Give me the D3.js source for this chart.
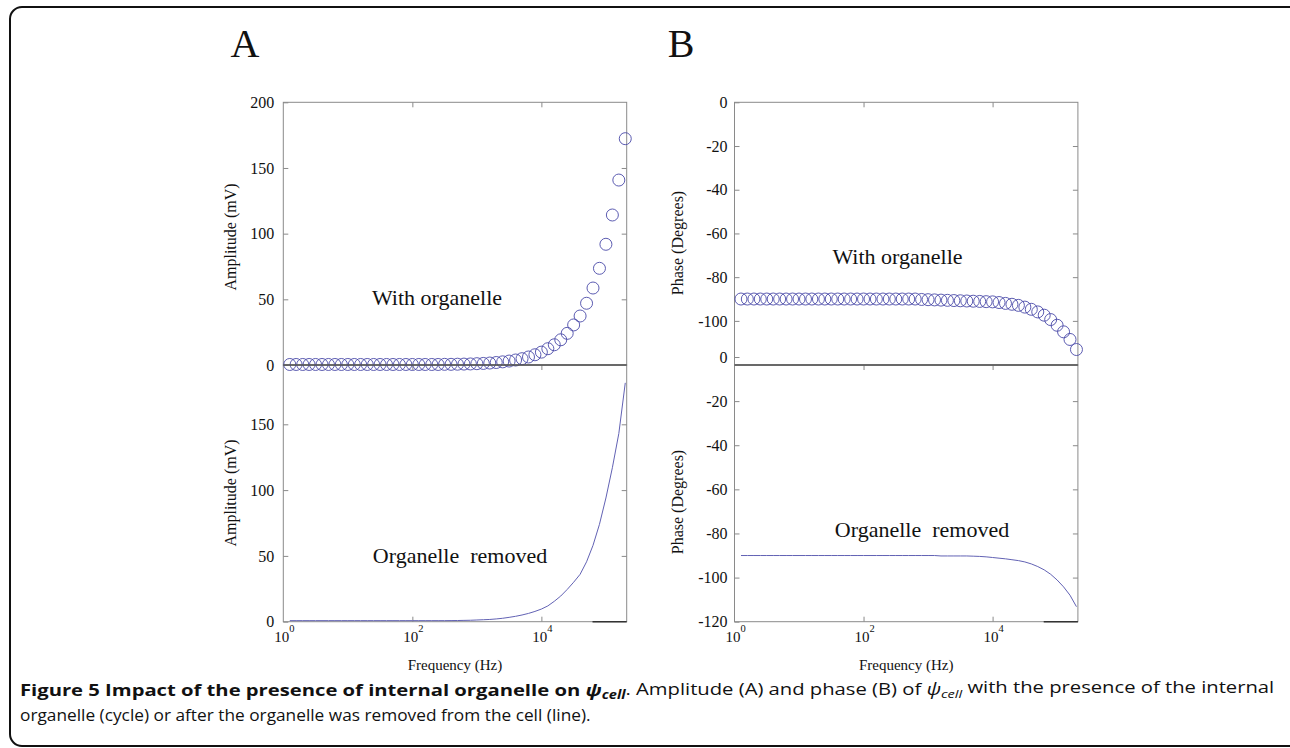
<!DOCTYPE html>
<html>
<head>
<meta charset="utf-8">
<script src="https://cdn.jsdelivr.net/npm/d3@7"></script>
<style>
  body { margin: 0; background: #fff; }
  svg { display: block; }
</style>
</head>
<body>
<div id="chart"></div>
<script>
// frequency grid (Hz), 0.1 decade steps
var freqHz = [1.26, 1.58, 2.00, 2.51, 3.16, 3.98, 5.01, 6.31, 7.94, 10,
  12.6, 15.8, 20.0, 25.1, 31.6, 39.8, 50.1, 63.1, 79.4, 100,
  126, 158, 200, 251, 316, 398, 501, 631, 794, 1000,
  1259, 1585, 1995, 2512, 3162, 3981, 5012, 6310, 7943, 10000,
  12589, 15849, 19953, 25119, 31623, 39811, 50119, 63096, 79433, 100000,
  125893, 158489, 199526];

// A: amplitude (mV)
var ampWithOrganelle = [0.4, 0.4, 0.4, 0.4, 0.4, 0.4, 0.4, 0.4, 0.4, 0.4,
  0.4, 0.4, 0.4, 0.4, 0.4, 0.4, 0.4, 0.4, 0.4, 0.4,
  0.4, 0.4, 0.4, 0.4, 0.5, 0.5, 0.6, 0.7, 0.8, 1.0,
  1.2, 1.5, 1.9, 2.4, 3.0, 3.8, 4.8, 6.1, 7.8, 9.8,
  12.4, 15.4, 19.2, 24.1, 30.5, 37.3, 47.0, 58.6, 73.6, 91.9,
  114.2, 140.8, 172.3];
var ampOrganelleRemoved = [0.8, 0.8, 0.8, 0.8, 0.8, 0.8, 0.8, 0.8, 0.8, 0.8,
  0.8, 0.8, 0.8, 0.8, 0.8, 0.8, 0.8, 0.8, 0.8, 0.8,
  0.8, 0.8, 0.8, 0.8, 0.8, 0.85, 0.9, 1.0, 1.1, 1.3,
  1.5, 1.7, 2.1, 2.6, 3.3, 4.1, 5.1, 6.3, 7.8, 9.6,
  12.0, 15.5, 19.5, 24.5, 30.0, 36.0, 45.5, 58.0, 74.0, 94.0,
  117, 143, 181.5];

// B: phase (degrees)
var phaseWithOrganelle = [-90, -90, -90, -90, -90, -90, -90, -90, -90, -90,
  -90, -90, -90, -90, -90, -90, -90, -90, -90, -90,
  -90, -90, -90, -90, -90, -90, -90, -90, -90.2, -90.3,
  -90.4, -90.5, -90.6, -90.7, -90.8, -90.9, -91.0, -91.1, -91.2, -91.3,
  -91.6, -92.0, -92.4, -92.9, -93.7, -94.7, -95.9, -97.4, -99.4, -102.0,
  -105.0, -108.5, -113.1];
var phaseOrganelleRemoved = [-90, -90, -90, -90, -90, -90, -90, -90, -90, -90,
  -90, -90, -90, -90, -90, -90, -90, -90, -90, -90,
  -90, -90, -90, -90, -90, -90, -90, -90, -90, -90,
  -90, -90.2, -90.2, -90.2, -90.2, -90.2, -90.3, -90.4, -90.6, -90.9,
  -91.2, -91.5, -91.9, -92.3, -92.9, -93.8, -95.0, -96.5, -98.5, -101.1,
  -104.2, -108.0, -113.2];

var ampTicksTop = [0, 50, 100, 150, 200];
var ampTicksBottom = [0, 50, 100, 150];
var phaseTicksTop = [-100, -80, -60, -40, -20, 0];
var phaseTicksBottom = [-120, -100, -80, -60, -40, -20, 0];
var freqTicks = [1, 100, 10000];
var freqExponents = ["0", "2", "4"];

var W = 1290, H = 748;
var serif = "'Liberation Serif','Times New Roman',serif";
var sans = "'Open Sans','Noto Sans',sans-serif";
var frameColor = "#8a8a8a", markColor = "#4a4aa8", lineColor = "#6262b4";

var svg = d3.select("#chart").append("svg")
    .attr("width", W)
    .attr("height", H);

// rounded figure border
svg.append("rect")
    .attr("x", 10).attr("y", 7)
    .attr("width", 1300).attr("height", 739)
    .attr("rx", 12)
    .attr("fill", "none")
    .attr("stroke", "#111")
    .attr("stroke-width", 2);

var xA = d3.scaleLog().domain([1, 2.1e5]).range([283.3, 626.7]);
var xB = d3.scaleLog().domain([1, 2.1e5]).range([734.5, 1077.9]);

var panels = [
  { x: xA, top: 365, bottom: 621.7,
    y: d3.scaleLinear().domain([0, 200]).range([621.7, 358.5]),
    ticks: ampTicksBottom, values: ampOrganelleRemoved, kind: "line",
    title: "Amplitude (mV)", titleX: 230, titleY: 493,
    label: "Organelle\u00a0 removed", labelX: 460, labelY: 563, pad: 9, bottomAxis: true },
  { x: xB, top: 365, bottom: 621.7,
    y: d3.scaleLinear().domain([-120, 0]).range([621.7, 357]),
    ticks: phaseTicksBottom, values: phaseOrganelleRemoved, kind: "line",
    title: "Phase (Degrees)", titleX: 677, titleY: 502,
    label: "Organelle\u00a0 removed", labelX: 922, labelY: 537, pad: 7, bottomAxis: true },
  { x: xA, top: 102.3, bottom: 365,
    y: d3.scaleLinear().domain([0, 200]).range([365, 102.3]),
    ticks: ampTicksTop, values: ampWithOrganelle, kind: "circle",
    title: "Amplitude (mV)", titleX: 230, titleY: 237,
    label: "With organelle", labelX: 437, labelY: 305, pad: 9, bottomAxis: false },
  { x: xB, top: 102.3, bottom: 365,
    y: d3.scaleLinear().domain([-120, 0]).range([364.6, 102.3]),
    ticks: phaseTicksTop, values: phaseWithOrganelle, kind: "circle",
    title: "Phase (Degrees)", titleX: 677, titleY: 243,
    label: "With organelle", labelX: 897.5, labelY: 264, pad: 7, bottomAxis: false }
];

function styleAxis(g) {
  g.select(".domain").remove();
  g.selectAll(".tick line").attr("stroke", frameColor);
  g.selectAll(".tick text")
    .style("font-family", serif)
    .style("font-size", "16px")
    .attr("fill", "#111");
}

panels.forEach(function(p) {
  var x0 = p.x.range()[0], x1 = p.x.range()[1];
  var g = svg.append("g");

  g.append("rect")
    .attr("x", x0).attr("y", p.top)
    .attr("width", x1 - x0).attr("height", p.bottom - p.top)
    .attr("fill", "none")
    .attr("stroke", frameColor);

  g.append("g")
    .attr("transform", "translate(" + x0 + ",0)")
    .call(d3.axisLeft(p.y).tickValues(p.ticks).tickSize(-5).tickPadding(p.pad)
      .tickFormat(function(d) { return String(d); }))
    .call(styleAxis);

  g.append("g")
    .attr("transform", "translate(" + x1 + ",0)")
    .call(d3.axisRight(p.y).tickValues(p.ticks.filter(function(d) {
        return p.y(d) > p.top + 2 && p.y(d) < p.bottom - 2; }))
      .tickSize(-5).tickFormat(""))
    .call(styleAxis);

  g.append("g")
    .attr("transform", "translate(0," + p.top + ")")
    .call(d3.axisTop(p.x).tickValues(freqTicks.slice(1)).tickSize(-5).tickFormat(""))
    .call(styleAxis);

  if (p.bottomAxis) {
    g.append("g")
      .attr("transform", "translate(0," + p.bottom + ")")
      .call(d3.axisBottom(p.x).tickValues(freqTicks.slice(1)).tickSize(-5).tickFormat(""))
      .call(styleAxis);

    // 10^n labels
    freqTicks.forEach(function(f, i) {
      var t = g.append("text")
        .attr("x", p.x(f) + 1)
        .attr("y", p.bottom + 20)
        .attr("text-anchor", "middle")
        .style("font-family", serif)
        .style("font-size", "15px")
        .attr("fill", "#111");
      t.append("tspan").text("10");
      t.append("tspan").attr("dy", -10).style("font-size", "10.5px").text(freqExponents[i]);
    });

    g.append("text")
      .attr("x", (x0 + x1) / 2)
      .attr("y", p.bottom + 48)
      .attr("text-anchor", "middle")
      .style("font-family", serif)
      .style("font-size", "15px")
      .attr("fill", "#111")
      .text("Frequency (Hz)");

    // dark stub on the bottom axis near the right corner
    g.append("line")
      .attr("x1", p.x(6.2e4)).attr("x2", x1)
      .attr("y1", p.bottom).attr("y2", p.bottom)
      .attr("stroke", "#333").attr("stroke-width", 1.6);
  }

  g.append("text")
    .attr("transform", "translate(" + p.titleX + "," + p.titleY + ") rotate(-90)")
    .attr("text-anchor", "middle")
    .attr("dy", "0.35em")
    .style("font-family", serif)
    .style("font-size", "16px")
    .attr("fill", "#111")
    .text(p.title);

  g.append("text")
    .attr("x", p.labelX).attr("y", p.labelY)
    .attr("text-anchor", "middle")
    .style("font-family", serif)
    .style("font-size", "22px")
    .attr("fill", "#111")
    .text(p.label);

  if (p.kind === "line") {
    var line = d3.line()
      .x(function(d, i) { return p.x(freqHz[i]); })
      .y(function(d) { return p.y(d); });
    g.append("path")
      .datum(p.values)
      .attr("d", line)
      .attr("fill", "none")
      .attr("stroke", lineColor)
      .attr("stroke-width", 1);
  } else {
    g.selectAll("circle")
      .data(p.values)
      .enter()
      .append("circle")
      .attr("cx", function(d, i) { return p.x(freqHz[i]); })
      .attr("cy", function(d) { return p.y(d); })
      .attr("r", 6)
      .attr("fill", "none")
      .attr("stroke", markColor)
      .attr("stroke-width", 0.9);
  }
});

// shared boundary between upper and lower plots
[xA, xB].forEach(function(x) {
  svg.append("line")
    .attr("x1", x.range()[0]).attr("x2", x.range()[1])
    .attr("y1", 365).attr("y2", 365)
    .attr("stroke", "#555").attr("stroke-width", 1.3);
});

// panel letters
svg.append("text").attr("x", 245).attr("y", 57).attr("text-anchor", "middle")
  .style("font-family", serif).style("font-size", "40px").attr("fill", "#111").text("A");
svg.append("text").attr("x", 681).attr("y", 57).attr("text-anchor", "middle")
  .style("font-family", serif).style("font-size", "40px").attr("fill", "#111").text("B");

// caption (condensed by a horizontal scale to fit the reference widths)
var cap1 = svg.append("text")
  .style("font-family", sans).style("font-size", "16px").attr("fill", "#111");
function part(t, txt, bold, italic, sub) {
  var s = t.append("tspan").text(txt);
  if (bold) s.style("font-weight", "bold");
  if (italic) s.style("font-style", "italic");
  if (sub === 1) s.attr("dy", "0.3em").style("font-size", "0.72em");
  if (sub === -1) s.attr("dy", "-0.3em");
  return s;
}
part(cap1, "Figure 5 Impact of the presence of internal organelle on ", true, false);
part(cap1, "\u03c8", true, true);
part(cap1, "cell", true, true, 1);
part(cap1, ".", false, false, -1);
part(cap1, " Amplitude (A) and phase (B) of ", false, false);
part(cap1, "\u03c8", false, true);
part(cap1, "cell", false, true, 1);
part(cap1, " with the presence of the internal", false, false, -1);

var cap2 = svg.append("text")
  .style("font-family", sans).style("font-size", "16px").attr("fill", "#111")
  .text("organelle (cycle) or after the organelle was removed from the cell (line).");

var s1 = 1255 / cap1.node().getComputedTextLength();
var s2 = 571 / cap2.node().getComputedTextLength();
cap1.attr("transform", "translate(20,696) scale(" + s1 + ",1)");
cap2.attr("transform", "translate(20,721) scale(" + s2 + ",1)");
</script>
</body>
</html>
